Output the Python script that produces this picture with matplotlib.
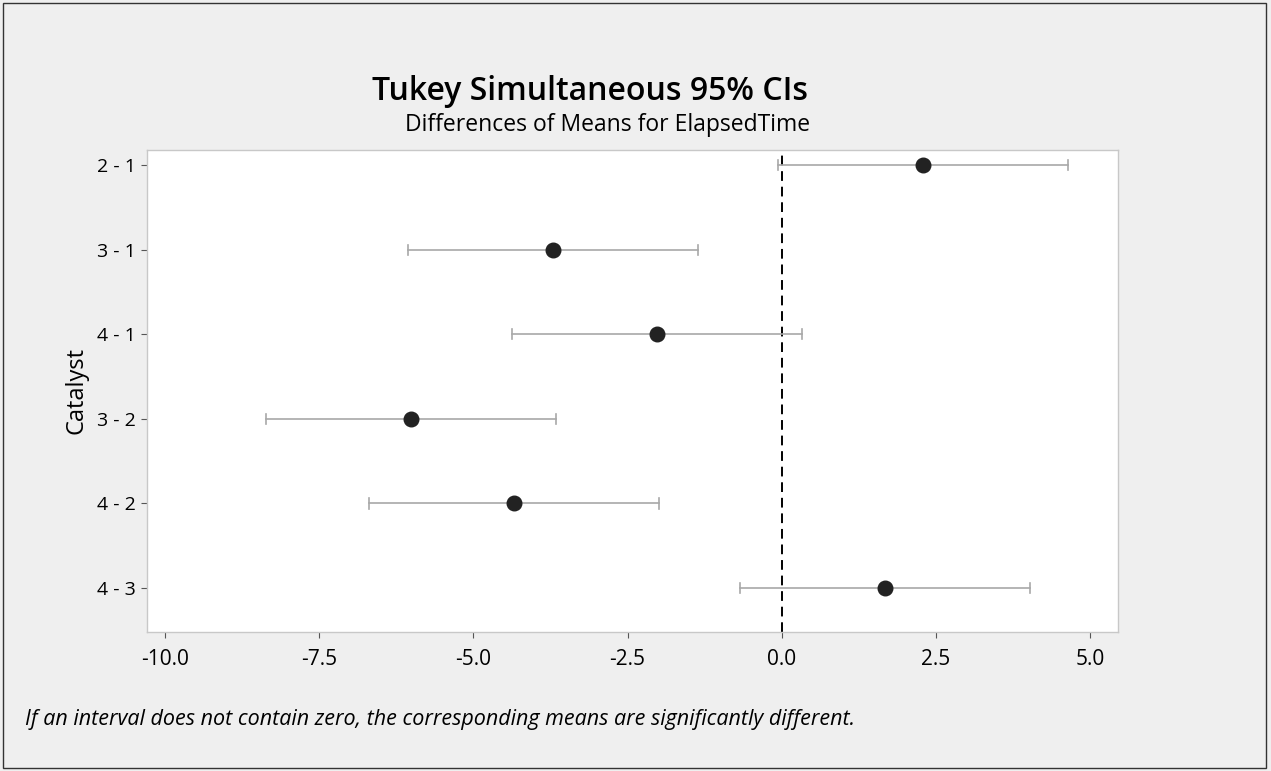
import matplotlib.pyplot as plt
from matplotlib.patches import Rectangle

# Tukey pairwise differences of means
pairs = ["2 - 1", "3 - 1", "4 - 1", "3 - 2", "4 - 2", "4 - 3"]
diff = [2.29, -3.71, -2.03, -6.01, -4.34, 1.67]
lower = [-0.06, -6.06, -4.38, -8.36, -6.69, -0.68]
upper = [4.64, -1.36, 0.32, -3.66, -1.99, 4.02]
xticks = [-10.0, -7.5, -5.0, -2.5, 0.0, 2.5, 5.0]

plt.rcParams['font.family'] = ['Open Sans', 'DejaVu Sans']

fig = plt.figure(figsize=(12.71, 7.71), dpi=100, facecolor='#efefef')
ax = fig.add_axes([147/1271, 1 - 632/771, (1118-147)/1271, (632-150)/771])
ax.set_facecolor('white')

ypos = list(range(1, len(pairs) + 1))
for y, lo, hi in zip(ypos, lower, upper):
    ax.plot([lo, hi], [y, y], color='#a8a8a8', lw=1.2, zorder=2)
    ax.plot([lo, lo], [y - 0.06, y + 0.06], color='#a8a8a8', lw=1.2, zorder=2)
    ax.plot([hi, hi], [y - 0.06, y + 0.06], color='#a8a8a8', lw=1.2, zorder=2)
ax.scatter(diff, ypos, s=110, color='#222222', zorder=3)

ax.axvline(0, color='black', lw=1.4, ls=(0, (5, 3)), zorder=1)

ax.set_xlim(-10.29, 5.45)
ax.set_ylim(6.52, 0.82)
ax.set_xticks(xticks)
ax.set_xticklabels([f"{t:.1f}" for t in xticks])
ax.set_yticks(ypos)
ax.set_yticklabels(pairs)
ax.tick_params(axis='x', labelsize=15, color='#555555', length=4, pad=8)
ax.tick_params(axis='y', labelsize=14, color='#555555', length=4, pad=4)
for s in ax.spines.values():
    s.set_color('#c8c8c8')
    s.set_linewidth(1)

ax.set_ylabel("Catalyst", fontsize=17, labelpad=6)

fig.text(590/1271, 1 - 92/771, "Tukey Simultaneous 95% CIs", ha='center', va='center',
         fontsize=23, fontweight='semibold')
fig.text(608/1271, 1 - 125/771, "Differences of Means for ElapsedTime", ha='center',
         va='center', fontsize=16.5)
fig.text(25/1271, 1 - 720/771,
         "If an interval does not contain zero, the corresponding means are significantly different.",
         ha='left', va='center', fontsize=15.5, style='italic')

fig.patches.append(Rectangle((3/1271, 3/771), 1 - 8/1271, 1 - 6/771,
                             transform=fig.transFigure, fill=False,
                             edgecolor='#333333', lw=1))

fig.savefig("out.png", dpi=100, facecolor=fig.get_facecolor())
